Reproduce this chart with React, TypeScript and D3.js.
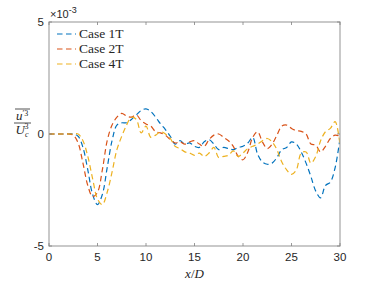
import { useEffect, useRef } from 'react';
import * as d3 from 'd3';

// x/D positions, shared by all three cases
const xPos = d3.range(0, 30.01, 0.5);

// values in units of 1e-3
const case1T = [
  0, 0, 0, 0, 0, 0, -0.1, -0.6, -1.6, -2.7, -3.15, -2.7, -1.5, -0.3, 0.4, 0.5,
  0.5, 0.65, 0.85, 1.05, 1.12, 1.0, 0.75, 0.45, 0.2, -0.1, -0.45, -0.3, -0.45, -0.4,
  -0.55, -0.6, -0.35, -0.25, -0.45, -0.7, -0.6, -0.65, -0.7, -0.6, -0.55, -0.4, -0.15,
  -0.9, -1.25, -1.35, -1.3, -1.05, -0.7, -0.6, -0.35, -0.45, -0.8, -1.3, -1.9, -2.55,
  -2.85, -2.3, -2.15, -1.5, -0.2,
];
const case2T = [
  0, 0, 0, 0, 0, -0.05, -0.4, -1.3, -2.3, -2.8, -2.6, -1.6, -0.3, 0.4, 0.75, 0.92,
  0.8, 0.75, 0.85, 0.6, 0.45, 0.35, 0.1, 0.05, -0.05, -0.25, -0.4, -0.35, -0.45, -0.35,
  -0.3, -0.45, -0.55, -0.25, -0.05, 0.0, -0.15, -0.3, -0.55, -1.0, -1.15, -0.8, -0.15,
  0.1, -0.35, -0.65, -0.45, -0.05, 0.35, 0.4, 0.25, 0.15, 0.12, 0.0, -0.45, -0.5,
  -0.8, -0.55, -0.2, -0.05, -0.1,
];
const case4T = [
  0, 0, 0, 0, 0, 0, 0, -0.3, -1.0, -2.0, -2.9, -3.15, -2.6, -1.7, -0.7, -0.1,
  0.4, 0.75, 0.65, 0.05, 0.35, -0.15, -0.05, 0.1, 0.0, -0.2, -0.55, -0.65, -0.8, -0.85,
  -0.95, -0.85, -1.0, -0.85, -0.6, -1.05, -1.0, -0.95, -0.75, -1.0, -0.85, -0.65, -0.55,
  -0.45, -0.3, -0.2, -0.35, -0.7, -1.25, -1.6, -1.8, -1.6, -0.85, -0.8, -1.3, -1.0,
  -0.3, 0.1, 0.25, 0.55, -0.5,
];

const seriesNames = ['Case 1T', 'Case 2T', 'Case 4T'];
const seriesColors = ['#0072BD', '#D95319', '#EDB120'];
const xTicks = [0, 5, 10, 15, 20, 25, 30];
const yTicks = [-5, 0, 5];

export default function App() {
  const svgRef = useRef<SVGSVGElement>(null);

  useEffect(() => {
    document.body.style.margin = '0';
    const width = 376;
    const height = 282;
    const left = 49, right = 340, top = 22, bottom = 246;

    const svg = d3.select(svgRef.current);
    svg.selectAll('*').remove();
    svg.attr('width', width).attr('height', height);

    const x = d3.scaleLinear().domain([0, 30]).range([left, right]);
    const y = d3.scaleLinear().domain([-5, 5]).range([bottom, top]);

    svg.append('rect')
      .attr('width', width).attr('height', height).attr('fill', '#fff');

    const all = [case1T, case2T, case4T];
    const line = d3.line<number>()
      .x((_, i) => x(xPos[i]))
      .y(d => y(d))
      .curve(d3.curveCatmullRom.alpha(0.5));

    const plot = svg.append('g');
    plot.append('clipPath').attr('id', 'clip')
      .append('rect').attr('x', left).attr('y', top)
      .attr('width', right - left).attr('height', bottom - top);

    all.forEach((vals, i) => {
      plot.append('path')
        .attr('clip-path', 'url(#clip)')
        .attr('d', line(vals))
        .attr('fill', 'none')
        .attr('stroke', seriesColors[i])
        .attr('stroke-width', 1.2)
        .attr('stroke-dasharray', '5.5,3.5');
    });

    // box and ticks
    const axisColor = '#a6a6a6';
    svg.append('rect')
      .attr('x', left).attr('y', top)
      .attr('width', right - left).attr('height', bottom - top)
      .attr('fill', 'none').attr('stroke', axisColor).attr('stroke-width', 1.2);

    const tk = svg.append('g').attr('stroke', '#808080').attr('stroke-width', 0.8);
    xTicks.forEach(t => {
      tk.append('line').attr('x1', x(t)).attr('x2', x(t)).attr('y1', bottom).attr('y2', bottom - 3);
      tk.append('line').attr('x1', x(t)).attr('x2', x(t)).attr('y1', top).attr('y2', top + 3);
    });
    yTicks.forEach(t => {
      tk.append('line').attr('x1', left).attr('x2', left + 3).attr('y1', y(t)).attr('y2', y(t));
      tk.append('line').attr('x1', right).attr('x2', right - 3).attr('y1', y(t)).attr('y2', y(t));
    });

    const font = "'Liberation Sans', Arial, sans-serif";
    svg.append('g').selectAll('text')
      .data(xTicks).enter().append('text')
      .attr('x', d => x(d)).attr('y', bottom + 15)
      .attr('text-anchor', 'middle')
      .attr('font-family', font).attr('font-size', 11.5).attr('fill', '#262626')
      .text(d => d);

    svg.append('g').selectAll('text')
      .data(yTicks).enter().append('text')
      .attr('x', left - 5).attr('y', d => y(d) + 4)
      .attr('text-anchor', 'end')
      .attr('font-family', font).attr('font-size', 11.5).attr('fill', '#262626')
      .text(d => d);

    // exponent
    const expo = svg.append('text')
      .attr('x', left + 1).attr('y', top - 4)
      .attr('font-family', font).attr('font-size', 11).attr('fill', '#262626');
    expo.append('tspan').text('\u00d710');
    expo.append('tspan').attr('dy', -5).attr('font-size', 9).text('-3');

    // x label
    const serif = "'Liberation Serif', 'DejaVu Serif', serif";
    const xl = svg.append('text')
      .attr('x', (left + right) / 2).attr('y', 278)
      .attr('text-anchor', 'middle')
      .attr('font-family', serif).attr('font-size', 13).attr('fill', '#262626');
    xl.append('tspan').attr('font-style', 'italic').text('x');
    xl.append('tspan').text('/');
    xl.append('tspan').attr('font-style', 'italic').text('D');

    // y label: overline u'^3 over U_c^3
    const yl = svg.append('g').attr('fill', '#262626')
      .attr('font-family', serif).attr('font-size', 13).attr('font-style', 'italic');
    const num = yl.append('text').attr('x', 22).attr('y', 120).attr('text-anchor', 'middle');
    num.append('tspan').text('u');
    num.append('tspan').attr('font-style', 'normal').attr('dy', -4).attr('font-size', 8).text('\u2032');
    num.append('tspan').attr('font-style', 'normal').attr('font-size', 8).text('3');
    yl.append('line').attr('x1', 15).attr('x2', 30).attr('y1', 109).attr('y2', 109)
      .attr('stroke', '#262626').attr('stroke-width', 0.8);
    yl.append('line').attr('x1', 14).attr('x2', 31).attr('y1', 123).attr('y2', 123)
      .attr('stroke', '#262626').attr('stroke-width', 0.8);
    const den = yl.append('text').attr('x', 22).attr('y', 134).attr('text-anchor', 'middle');
    den.append('tspan').text('U');
    den.append('tspan').attr('font-size', 8).attr('dy', 3).text('c');
    den.append('tspan').attr('font-style', 'normal').attr('font-size', 8).attr('dy', -8).attr('dx', -4).text('3');

    // legend
    const legend = svg.append('g');
    seriesNames.forEach((name, i) => {
      const ly = 34 + i * 15;
      legend.append('line')
        .attr('x1', 57).attr('x2', 76).attr('y1', ly).attr('y2', ly)
        .attr('stroke', seriesColors[i]).attr('stroke-width', 1.2)
        .attr('stroke-dasharray', '5.5,3.5');
      legend.append('text')
        .attr('x', 79).attr('y', ly + 4)
        .attr('font-family', serif).attr('font-size', 13.5).attr('fill', '#262626')
        .text(name);
    });
  }, []);

  return <svg ref={svgRef}></svg>;
}
